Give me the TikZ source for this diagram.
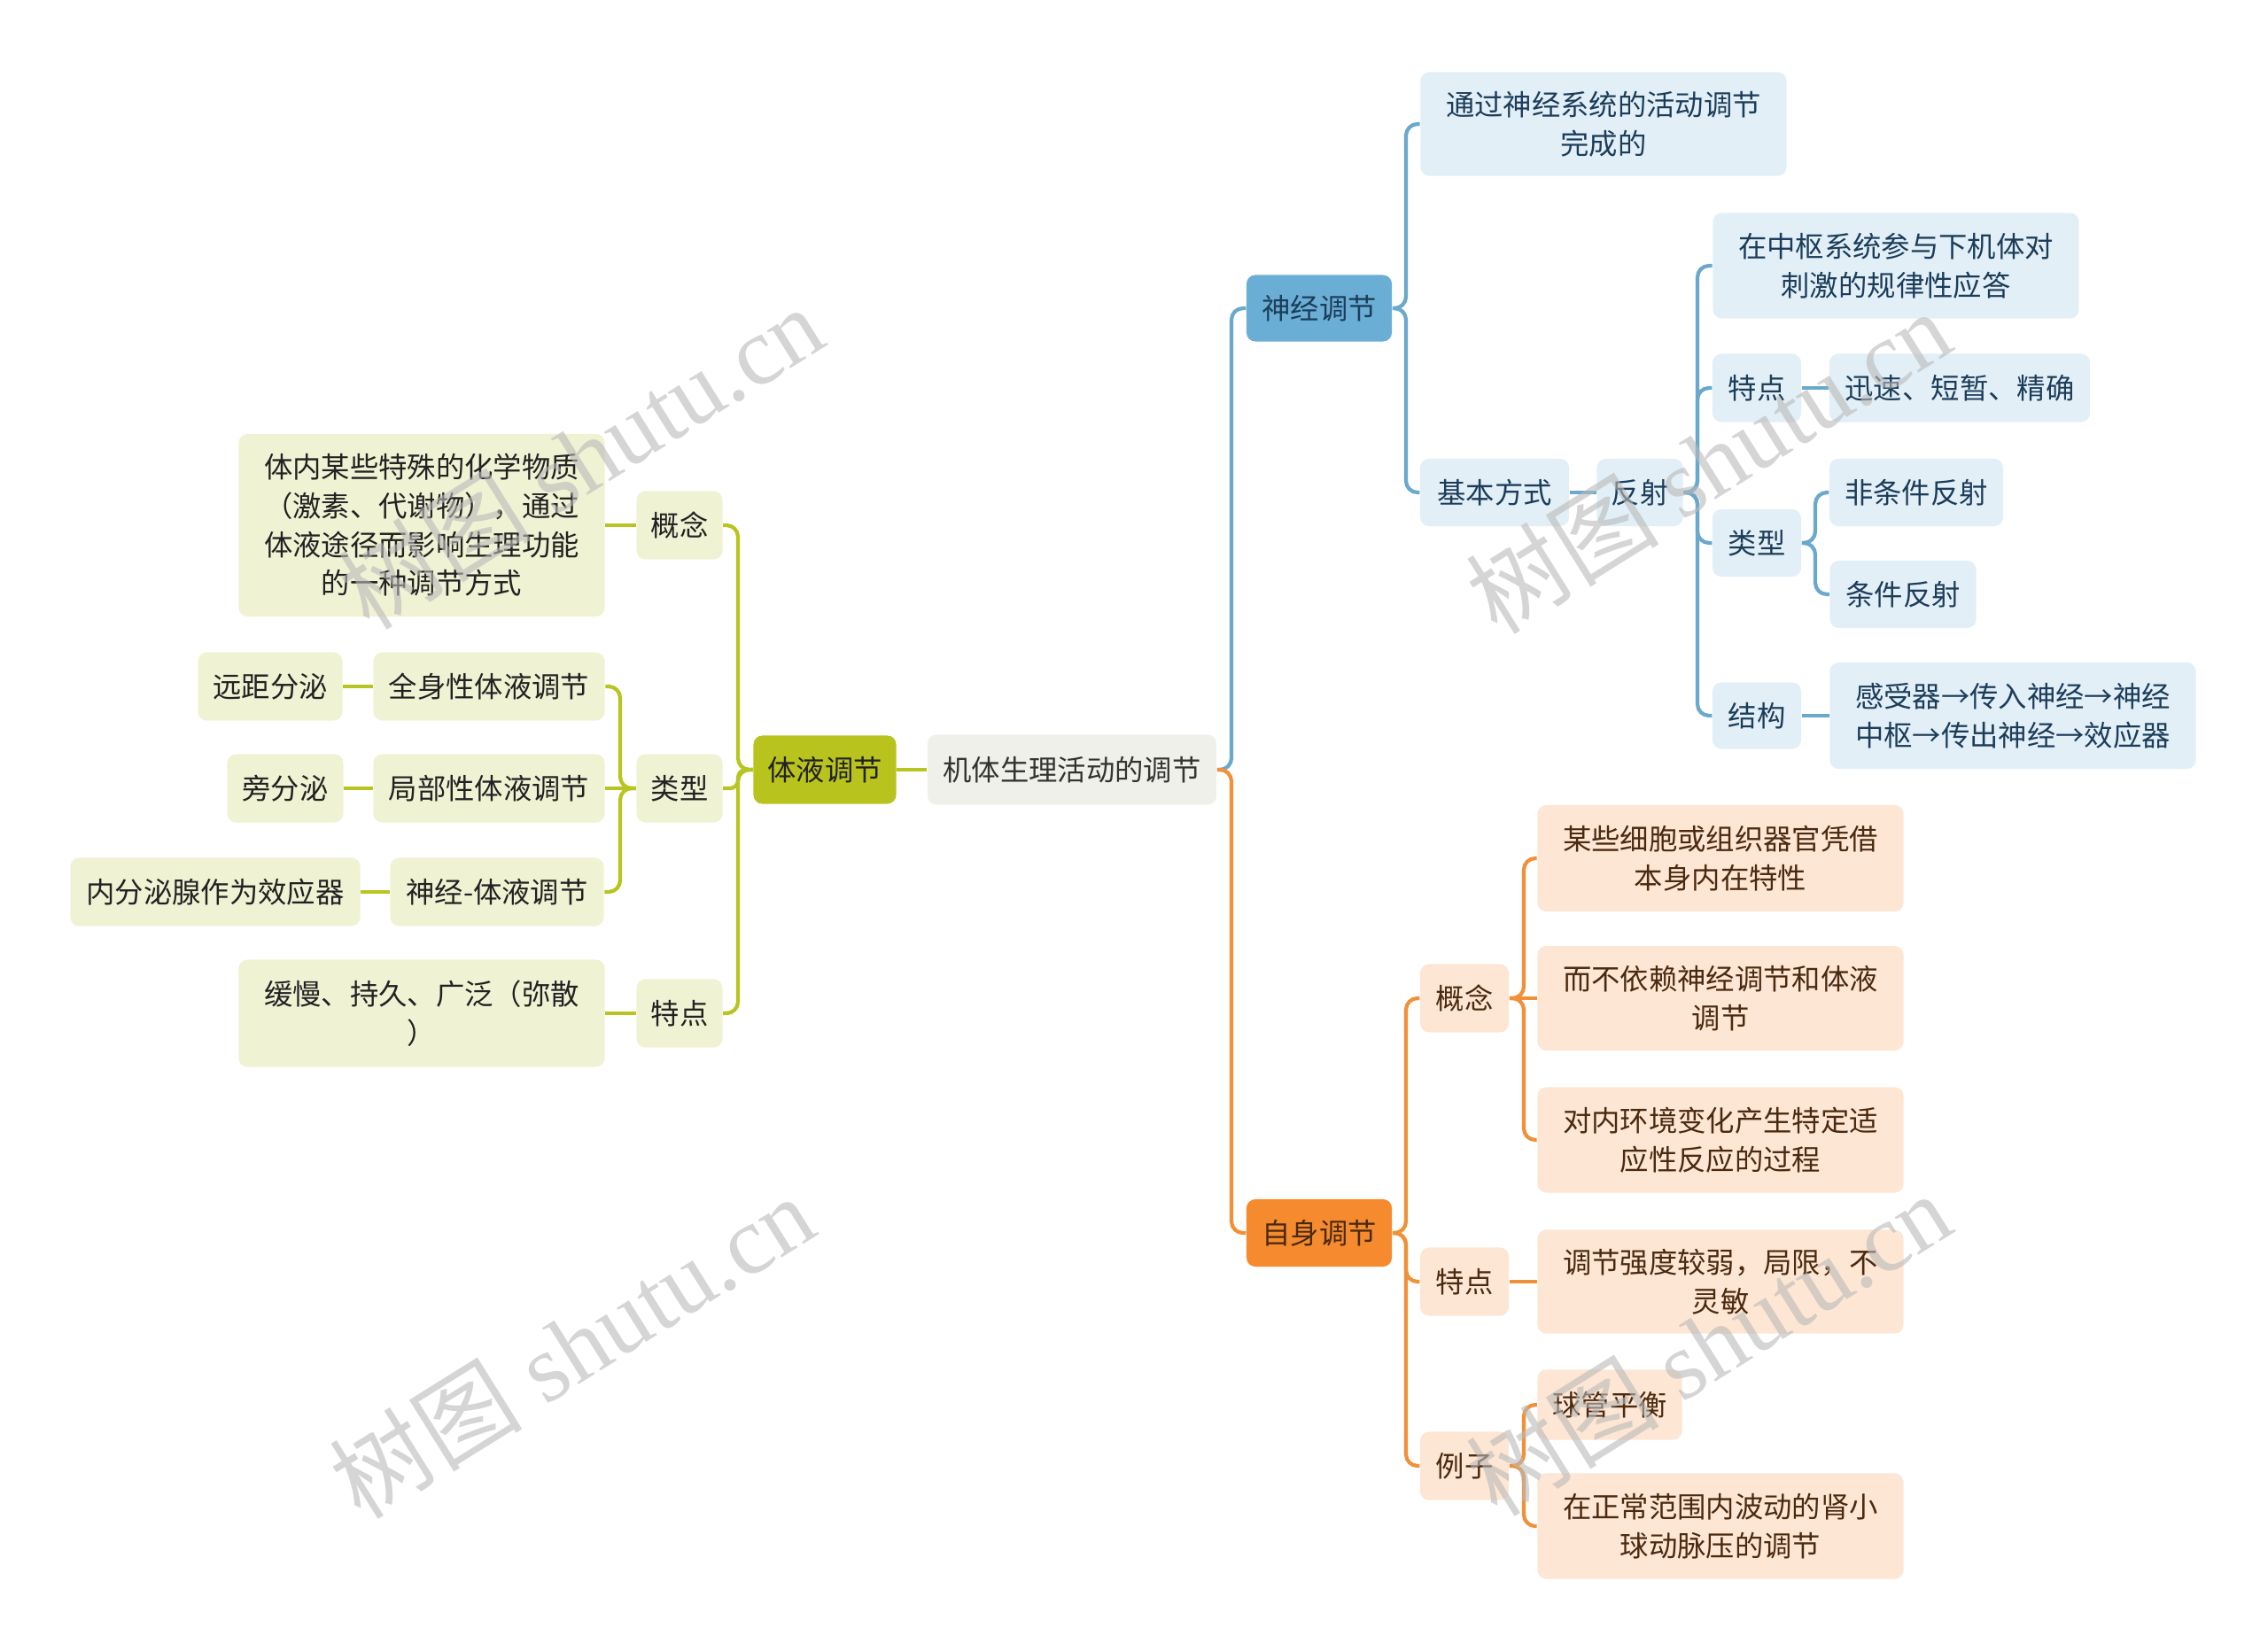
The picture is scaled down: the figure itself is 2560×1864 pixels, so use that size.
\documentclass[tikz,border=0pt]{standalone}
\usepackage{fontspec}
\setmainfont{Noto Sans CJK SC}
\newfontfamily\wmfont{Liberation Serif}
\newfontfamily\wmcjk{Noto Sans CJK SC}
\definecolor{bMain}{HTML}{6AAED5}
\definecolor{bLight}{HTML}{E2EFF7}
\definecolor{bLine}{HTML}{6AA8CC}
\definecolor{bText}{HTML}{1C3D5A}
\definecolor{oMain}{HTML}{F58A2E}
\definecolor{oLight}{HTML}{FDE6D4}
\definecolor{oLine}{HTML}{F0913A}
\definecolor{oText}{HTML}{4A2A10}
\definecolor{gMain}{HTML}{B8C31D}
\definecolor{gLight}{HTML}{F0F2D4}
\definecolor{gLine}{HTML}{B8C41F}
\definecolor{gText}{HTML}{222222}
\definecolor{rFill}{HTML}{F0F0EA}
\definecolor{rText}{HTML}{333333}
\definecolor{wmGray}{HTML}{B9B9B9}
\begin{document}
\begin{tikzpicture}[x=0.01cm,y=-0.01cm,
  box/.style={rounded corners=0.1cm, align=center, inner sep=0pt,
    font=\fontsize{9.2pt}{12.4pt}\selectfont},
  rootbox/.style={box, fill=rFill, text=rText},
  bmain/.style={box, fill=bMain, text=bText},
  blf/.style={box, fill=bLight, text=bText},
  omain/.style={box, fill=oMain, text=oText},
  olf/.style={box, fill=oLight, text=oText},
  gmain/.style={box, fill=gMain, text=gText},
  glf/.style={box, fill=gLight, text=gText},
  sz/.style 2 args={minimum width=#1, minimum height=#2},
  conn/.style={line width=1.2pt, rounded corners=0.13cm},
  cb/.style={conn, draw=bLine},
  co/.style={conn, draw=oLine},
  cg/.style={conn, draw=gLine},
  wm/.style={text=wmGray, text opacity=0.6, rotate=32, font=\wmfont\fontsize{31pt}{33pt}\selectfont}
]
\useasboundingbox (0,0) rectangle (2560,1864);

% ---------- nodes ----------
\node[rootbox, sz={3.26cm}{0.79cm}] (R) at (1210,869) {机体生理活动的调节};
\node[gmain, sz={1.61cm}{0.77cm}] (T) at (931,869) {体液调节};
\node[bmain, sz={1.64cm}{0.75cm}] (N) at (1489,348) {神经调节};
\node[omain, sz={1.64cm}{0.76cm}] (Z) at (1489,1392) {自身调节};

% blue branch
\node[blf, sz={4.13cm}{1.17cm}] (N1) at (1810,140) {通过神经系统的活动调节\\完成的};
\node[blf, sz={1.68cm}{0.76cm}] (N2) at (1687,556) {基本方式};
\node[blf, sz={0.97cm}{0.76cm}] (N3) at (1851,556) {反射};
\node[blf, sz={4.13cm}{1.19cm}] (N4) at (2140,300) {在中枢系统参与下机体对\\刺激的规律性应答};
\node[blf, sz={1.00cm}{0.77cm}] (N5) at (1983,438) {特点};
\node[blf, sz={2.94cm}{0.77cm}] (N6) at (2212,438) {迅速、短暂、精确};
\node[blf, sz={1.00cm}{0.76cm}] (N7) at (1983,613) {类型};
\node[blf, sz={1.96cm}{0.76cm}] (N8) at (2163,556) {非条件反射};
\node[blf, sz={1.65cm}{0.76cm}] (N9) at (2148,671) {条件反射};
\node[blf, sz={1.00cm}{0.75cm}] (N10) at (1983,808) {结构};
\node[blf, sz={4.13cm}{1.20cm}] (N11) at (2272,808) {感受器→传入神经→神经\\中枢→传出神经→效应器};

% orange branch
\node[olf, sz={1.00cm}{0.77cm}] (Z1) at (1653,1127) {概念};
\node[olf, sz={4.13cm}{1.20cm}] (Z2) at (1942,969) {某些细胞或组织器官凭借\\本身内在特性};
\node[olf, sz={4.13cm}{1.18cm}] (Z3) at (1942,1127) {而不依赖神经调节和体液\\调节};
\node[olf, sz={4.13cm}{1.19cm}] (Z4) at (1942,1287) {对内环境变化产生特定适\\应性反应的过程};
\node[olf, sz={1.00cm}{0.77cm}] (Z5) at (1653,1447) {特点};
\node[olf, sz={4.13cm}{1.17cm}] (Z6) at (1942,1447) {调节强度较弱，局限，不\\灵敏};
\node[olf, sz={1.00cm}{0.77cm}] (Z7) at (1653,1655) {例子};
\node[olf, sz={1.63cm}{0.79cm}] (Z8) at (1817,1586) {球管平衡};
\node[olf, sz={4.13cm}{1.19cm}] (Z9) at (1942,1723) {在正常范围内波动的肾小\\球动脉压的调节};

% green branch
\node[glf, sz={0.97cm}{0.77cm}] (T1) at (767,593) {概念};
\node[glf, sz={4.13cm}{2.06cm}] (T2) at (476,593) {体内某些特殊的化学物质\\（激素、代谢物），通过\\体液途径而影响生理功能\\的一种调节方式};
\node[glf, sz={0.97cm}{0.77cm}] (T3) at (767,890) {类型};
\node[glf, sz={2.61cm}{0.77cm}] (T4) at (552,775) {全身性体液调节};
\node[glf, sz={1.63cm}{0.77cm}] (T5) at (305,775) {远距分泌};
\node[glf, sz={2.61cm}{0.77cm}] (T6) at (552,890) {局部性体液调节};
\node[glf, sz={1.31cm}{0.77cm}] (T7) at (322,890) {旁分泌};
\node[glf, sz={2.41cm}{0.77cm}] (T8) at (561,1007) {神经-体液调节};
\node[glf, sz={3.27cm}{0.77cm}] (T9) at (243,1007) {内分泌腺作为效应器};
\node[glf, sz={0.97cm}{0.77cm}] (T10) at (767,1144) {特点};
\node[glf, sz={4.13cm}{1.21cm}] (T11) at (476,1144) {缓慢、持久、广泛（弥散\\）};

% ---------- bus coordinates ----------
\coordinate (bR) at (1390,869);
\coordinate (bN) at (1587,348);
\coordinate (bN3) at (1916,556);
\coordinate (bN7) at (2049,613);
\coordinate (bZ) at (1587,1392);
\coordinate (bZ1) at (1720,1127);
\coordinate (bZ7) at (1720,1655);
\coordinate (bT) at (833,869);
\coordinate (bT3) at (700,890);

% ---------- connectors ----------
\draw[cb] (R.east) -- (bR) |- (N.west);
\draw[co] (R.east) -- (bR) |- (Z.west);
\draw[cg] (R.west) -- (T.east);

\draw[cb] (N.east) -- (bN) |- (N1.west);
\draw[cb] (N.east) -- (bN) |- (N2.west);
\draw[cb] (N2.east) -- (N3.west);
\draw[cb] (N3.east) -- (bN3) |- (N4.west);
\draw[cb] (N3.east) -- (bN3) |- (N5.west);
\draw[cb] (N3.east) -- (bN3) |- (N7.west);
\draw[cb] (N3.east) -- (bN3) |- (N10.west);
\draw[cb] (N5.east) -- (N6.west);
\draw[cb] (N7.east) -- (bN7) |- (N8.west);
\draw[cb] (N7.east) -- (bN7) |- (N9.west);
\draw[cb] (N10.east) -- (N11.west);

\draw[co] (Z.east) -- (bZ) |- (Z1.west);
\draw[co] (Z.east) -- (bZ) |- (Z5.west);
\draw[co] (Z.east) -- (bZ) |- (Z7.west);
\draw[co] (Z1.east) -- (bZ1) |- (Z2.west);
\draw[co] (Z1.east) -- (Z3.west);
\draw[co] (Z1.east) -- (bZ1) |- (Z4.west);
\draw[co] (Z5.east) -- (Z6.west);
\draw[co] (Z7.east) -- (bZ7) |- (Z8.west);
\draw[co] (Z7.east) -- (bZ7) |- (Z9.west);

\draw[cg] (T.west) -- (bT) |- (T1.east);
\draw[cg, rounded corners=0.09cm] (T.west) -- (bT) |- (T3.east);
\draw[cg] (T.west) -- (bT) |- (T10.east);
\draw[cg] (T1.west) -- (T2.east);
\draw[cg] (T3.west) -- (bT3) |- (T4.east);
\draw[cg] (T3.west) -- (T6.east);
\draw[cg] (T3.west) -- (bT3) |- (T8.east);
\draw[cg] (T4.west) -- (T5.east);
\draw[cg] (T6.west) -- (T7.east);
\draw[cg] (T8.west) -- (T9.east);
\draw[cg] (T10.west) -- (T11.east);

% ---------- watermarks ----------
\node[wm] (w1) at (655,516) {{\wmcjk 树图} shutu.cn};
\node[wm] (w2) at (645,1520) {{\wmcjk 树图} shutu.cn};
\node[wm] (w3) at (1928,521) {{\wmcjk 树图} shutu.cn};
\node[wm] (w4) at (1928,1517) {{\wmcjk 树图} shutu.cn};
\end{tikzpicture}
\end{document}
